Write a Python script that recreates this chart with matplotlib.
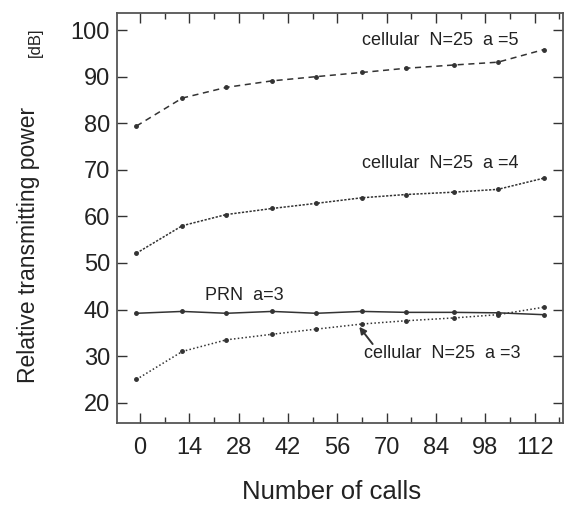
import matplotlib
matplotlib.use("Agg")
import matplotlib.pyplot as plt
from matplotlib.ticker import MultipleLocator

plt.rcParams['font.family'] = ['Liberation Sans', 'DejaVu Sans']

calls = [-1, 12, 24.5, 37.5, 50, 63, 75.5, 89, 101.5, 114.5]
cell_a5 = [79.4, 85.4, 87.7, 89.1, 90.0, 90.9, 91.8, 92.5, 93.1, 95.8]
cell_a4 = [52.1, 58.0, 60.4, 61.7, 62.8, 64.0, 64.7, 65.2, 65.8, 68.2]
prn_a3 = [39.2, 39.6, 39.2, 39.6, 39.2, 39.6, 39.4, 39.4, 39.3, 38.9]
cell_a3 = [25.0, 31.0, 33.5, 34.7, 35.8, 36.9, 37.6, 38.2, 38.9, 40.5]
xticks = [0, 14, 28, 42, 56, 70, 84, 98, 112]
yticks = [20, 30, 40, 50, 60, 70, 80, 90, 100]

fig = plt.figure(figsize=(5.71, 5.13), dpi=100)
ax = fig.add_axes([0.205, 0.175, 0.781, 0.80])
c = '#333333'
ax.plot(calls, cell_a5, ls=(0, (4, 3)), color=c, lw=1.1, marker='o', ms=2.5)
ax.plot(calls, cell_a4, ls=(0, (1.5, 1)), color=c, lw=1.1, marker='o', ms=2.5)
ax.plot(calls, prn_a3, ls='-', color=c, lw=1.1, marker='o', ms=2.5)
ax.plot(calls, cell_a3, ls=(0, (1, 1.5)), color=c, lw=1.1, marker='o', ms=2.5)

ax.set_xlim(-6.5, 120)
ax.set_ylim(15.6, 103.7)
ax.set_xticks(xticks)
ax.set_yticks(yticks)
ax.xaxis.set_minor_locator(MultipleLocator(7))
ax.tick_params(which='both', direction='in', top=True, right=True, colors=c,
               labelsize=17, labelcolor='#222222')
ax.tick_params(which='major', length=7, width=1)
ax.tick_params(which='minor', length=4, width=1)
ax.tick_params(axis='x', pad=10)
ax.tick_params(axis='y', pad=5)
for s in ax.spines.values():
    s.set_color('#555555')
    s.set_linewidth(1.3)

fig.text(0.58, 1 - 492 / 513, 'Number of calls', fontsize=18.5, color='#222222',
         ha='center', va='center')
fig.text(29 / 571, 1 - 245 / 513, 'Relative transmitting power', rotation=90,
         fontsize=16.5, color='#222222', ha='center', va='center')
fig.text(35 / 571, 1 - 42 / 513, '[dB]', rotation=90, fontsize=12, color='#222222',
         ha='center', va='center')

tk = dict(fontsize=13, color='#222222')
ax.text(63, 97.8, 'cellular  N=25  a =5', va='center', **tk)
ax.text(63, 71.3, 'cellular  N=25  a =4', va='center', **tk)
ax.text(18.5, 43.0, 'PRN  a=3', va='center', **tk)
ax.text(63.5, 30.6, 'cellular  N=25  a =3', va='center', **tk)
ax.annotate('', xy=(62.2, 36.3), xytext=(66.0, 32.6),
            arrowprops=dict(arrowstyle='-|>', color=c, lw=1.4, mutation_scale=10,
                            shrinkA=0, shrinkB=0))

fig.savefig('out.png', dpi=100)
